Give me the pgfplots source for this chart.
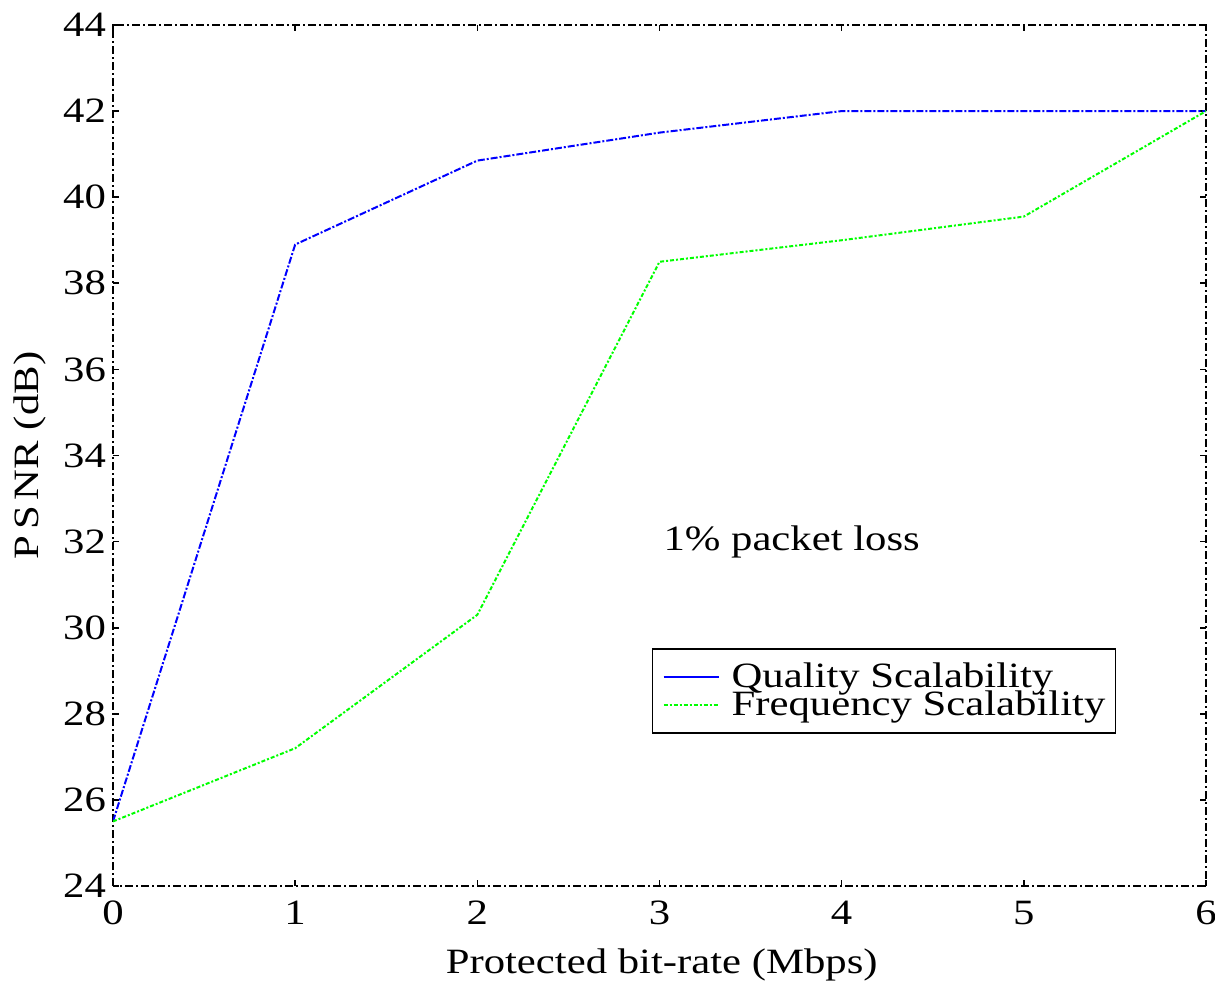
\documentclass[border=0pt]{standalone}
\usepackage{fontspec}
\setmainfont{Liberation Serif}[FakeStretch=1.2]
\usepackage{pgfplots}
\pgfplotsset{compat=1.18}
\definecolor{pblue}{RGB}{0,0,255}
\definecolor{pgreen}{RGB}{0,255,0}
\begin{document}
\begin{tikzpicture}
\useasboundingbox (-56.5pt,-50pt) rectangle (551pt,443pt);
\begin{axis}[
  scale only axis,
  width=546.5pt, height=430.5pt,
  xmin=0, xmax=6, ymin=24, ymax=44,
  xtick={0,1,2,3,4,5,6},
  ytick={24,26,28,30,32,34,36,38,40,42,44},
  tick align=inside,
  major tick length=3pt,
  tick style={black, line width=0.8pt},
  axis line style={black, line width=1pt, dash pattern=on 4pt off 1.5pt on 1pt off 1.5pt},
  /pgf/number format/assume math mode=true,
  tick label style={font=\fontsize{17.8}{20}\selectfont},
  xticklabel style={yshift=-4pt},
  label style={font=\fontsize{17.8}{20}\selectfont},
  xlabel={Protected bit-rate (Mbps)},
  ylabel={P\,S\,NR (dB)},
  xlabel style={at={(axis description cs:0.502,-0.0917)}, anchor=center},
  ylabel style={at={(axis description cs:-0.076,0.5)}, anchor=center},
  legend style={at={(0.493,0.276)}, anchor=north west, draw=black, line width=0.8pt,
    font=\fontsize{17.8}{17.8}\selectfont, row sep=0pt, column sep=6pt,
    inner xsep=5pt, inner ysep=7pt,
    nodes={inner sep=0pt, text height=12pt, text depth=2pt}},
  legend image code/.code={\draw[#1] (0pt,0pt) -- (27.5pt,0pt);},
  legend cell align=left,
]
\addplot[pblue, line width=1pt, dash pattern=on 3.5pt off 1pt on 1pt off 1pt, forget plot] coordinates {
  (0,25.5) (1,38.9) (2,40.85) (3,41.5) (4,42.0) (5,42.0) (6,42.0)
};
\addplot[pgreen, line width=1pt, dash pattern=on 2pt off 1pt on 1pt off 1pt, forget plot] coordinates {
  (0,25.5) (1,27.2) (2,30.3) (3,38.5) (4,39.0) (5,39.55) (6,42.0)
};
\addlegendimage{pblue, line width=1pt}
\addlegendentry{Quality Scalability}
\addlegendimage{pgreen, line width=1pt, dash pattern=on 2pt off 1pt on 1pt off 1pt}
\addlegendentry{Frequency Scalability}
\node[anchor=west, font=\fontsize{17.8}{20}\selectfont, inner sep=0pt] at (axis cs:3.02,32) {1\% packet loss};
\end{axis}
\end{tikzpicture}
\end{document}
